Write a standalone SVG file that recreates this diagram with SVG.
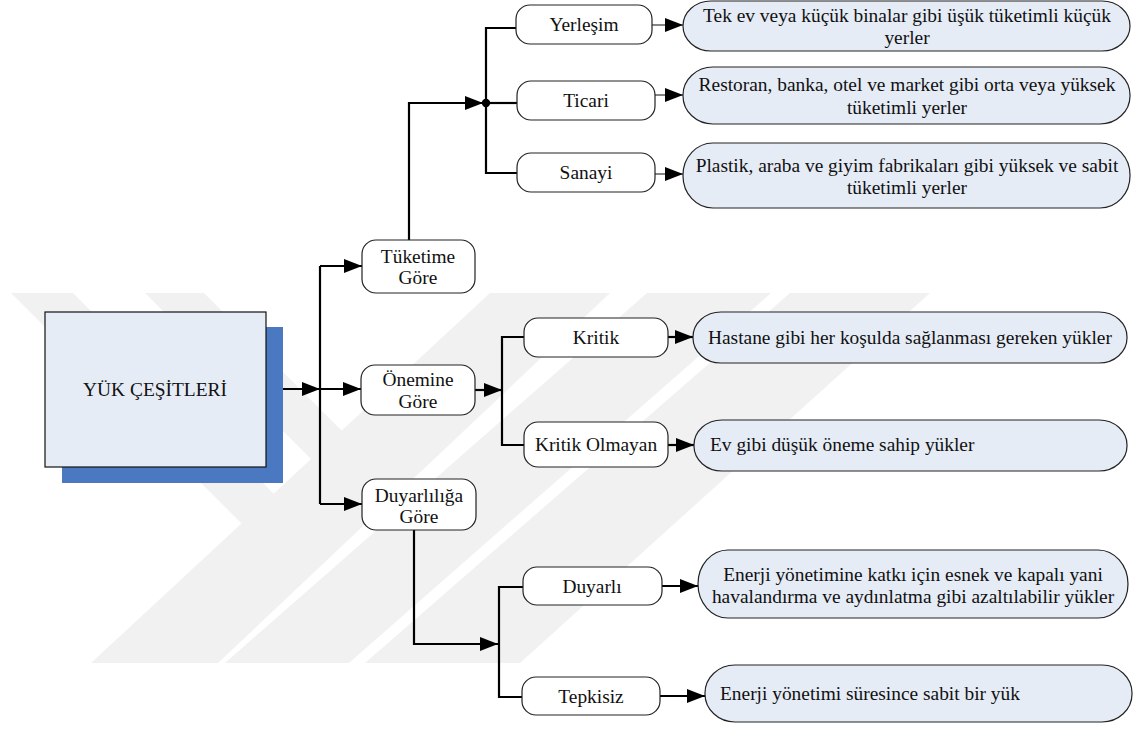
<svg xmlns="http://www.w3.org/2000/svg" width="1138" height="729" viewBox="0 0 1138 729">
<defs>
<style>
.node rect{fill:#fff;stroke:#222;stroke-width:1.2}
.desc rect{fill:#e6ecf6;stroke:#222;stroke-width:1.2}
.c{text-anchor:middle}
.wire{fill:none;stroke:#000;stroke-width:2.2}
.thin{fill:none;stroke:#666;stroke-width:1.6}
.wm{fill:#f1f1f1}
</style>
<marker id="arr" markerUnits="userSpaceOnUse" markerWidth="18" markerHeight="14" viewBox="0 0 18 14" refX="18" refY="7" orient="auto"><path d="M0,0 L18,7 L0,14 z" fill="#000"/></marker>
</defs>
<rect width="1138" height="729" fill="#fff"/>

<!-- faint background emblem: two short arms and three long slanted bars -->
<g id="emblem" class="wm">
<polygon points="11,293 73,293 325,545 263,545"/>
<polygon points="145,293 204,293 456,545 397,545"/>
<polygon points="91,663 218,663 610,293 490,293"/>
<polygon points="225,663 349,663 771,293 647,293"/>
<polygon points="365,663 520,663 930,293 790,293"/>
</g>

<g id="connectors">
<path class="wire" d="M266,389 H320" marker-end="url(#arr)"/>
<path class="wire" d="M320,266 V504"/>
<path class="wire" d="M320,266 H362" marker-end="url(#arr)"/>
<path class="wire" d="M320,389 H361" marker-end="url(#arr)"/>
<path class="wire" d="M320,504 H362" marker-end="url(#arr)"/>
<path class="wire" d="M409,240 V103 H483" marker-end="url(#arr)"/>
<circle cx="486" cy="103" r="4.2" fill="#000"/>
<path class="wire" d="M516,28 H486 V173 H517"/>
<path class="wire" d="M486,103 H517"/>
<path class="thin" d="M652,25 H683" marker-end="url(#arr)"/>
<path class="thin" d="M655,95 H683" marker-end="url(#arr)"/>
<path class="thin" d="M655,174 H683" marker-end="url(#arr)"/>
<path class="wire" d="M475,390 H502" marker-end="url(#arr)"/>
<path class="wire" d="M524,337 H502 V445 H524"/>
<path class="wire" d="M668,337 H693" marker-end="url(#arr)"/>
<path class="wire" d="M668,445 H694" marker-end="url(#arr)"/>
<path class="wire" d="M414,530 V644 H498" marker-end="url(#arr)"/>
<path class="wire" d="M523,587 H499 V697 H522"/>
<path class="wire" d="M662,586 H698" marker-end="url(#arr)"/>
<path class="wire" d="M660,696 H705" marker-end="url(#arr)"/>
</g>

<g font-family="'Liberation Serif', 'Times New Roman', Times, serif" font-size="19.4" fill="#111">

<g id="yuk-cesitleri">
<rect x="62" y="327" width="221" height="156" fill="#4a78c1"/>
<rect x="45" y="312" width="221" height="155" fill="#e6ecf6" stroke="#111" stroke-width="1.2"/>
<text x="155" y="396" class="c">YÜK ÇEŞİTLERİ</text>
</g>

<g id="tuketime" class="node">
<rect x="362" y="240" width="113" height="53" rx="14"/>
<text x="418" y="263" class="c">Tüketime</text>
<text x="418" y="284" class="c">Göre</text>
</g>
<g id="onemine" class="node">
<rect x="361" y="365" width="114" height="50" rx="14"/>
<text x="418" y="386" class="c">Önemine</text>
<text x="418" y="408" class="c">Göre</text>
</g>
<g id="duyarliliga" class="node">
<rect x="362" y="479" width="114" height="51" rx="14"/>
<text x="419" y="502" class="c">Duyarlılığa</text>
<text x="419" y="523" class="c">Göre</text>
</g>

<g id="yerlesim" class="node">
<rect x="516" y="5" width="136" height="39" rx="14"/>
<text x="584" y="31" class="c">Yerleşim</text>
</g>
<g id="ticari" class="node">
<rect x="517" y="81" width="138" height="39" rx="14"/>
<text x="586" y="107" class="c">Ticari</text>
</g>
<g id="sanayi" class="node">
<rect x="517" y="153" width="138" height="39" rx="14"/>
<text x="586" y="179" class="c">Sanayi</text>
</g>
<g id="kritik" class="node">
<rect x="524" y="318" width="144" height="39" rx="14"/>
<text x="596" y="344" class="c">Kritik</text>
</g>
<g id="kritik-olmayan" class="node">
<rect x="524" y="422" width="144" height="45" rx="14"/>
<text x="596" y="451" class="c">Kritik Olmayan</text>
</g>
<g id="duyarli" class="node">
<rect x="523" y="567" width="139" height="38" rx="14"/>
<text x="592" y="593" class="c">Duyarlı</text>
</g>
<g id="tepkisiz" class="node">
<rect x="522" y="677" width="138" height="38" rx="14"/>
<text x="591" y="703" class="c">Tepkisiz</text>
</g>

<g id="yerlesim-desc" class="desc">
<rect x="683" y="1" width="447" height="50" rx="28" ry="25"/>
<text x="907" y="22" class="c">Tek ev veya küçük binalar gibi üşük tüketimli küçük</text>
<text x="907" y="44" class="c">yerler</text>
</g>
<g id="ticari-desc" class="desc">
<rect x="683" y="67" width="447" height="57" rx="30" ry="28"/>
<text x="907" y="91" class="c">Restoran, banka, otel ve market gibi orta veya yüksek</text>
<text x="907" y="114" class="c">tüketimli yerler</text>
</g>
<g id="sanayi-desc" class="desc">
<rect x="683" y="143" width="447" height="65" rx="30" ry="32"/>
<text x="907" y="172" class="c">Plastik, araba ve giyim fabrikaları gibi yüksek ve sabit</text>
<text x="907" y="194" class="c">tüketimli yerler</text>
</g>
<g id="kritik-desc" class="desc">
<rect x="693" y="312" width="434" height="51" rx="28" ry="25"/>
<text x="708" y="344">Hastane gibi her koşulda sağlanması gereken yükler</text>
</g>
<g id="kritik-olmayan-desc" class="desc">
<rect x="694" y="420" width="433" height="51" rx="28" ry="25"/>
<text x="710" y="451">Ev gibi düşük öneme sahip yükler</text>
</g>
<g id="duyarli-desc" class="desc">
<rect x="698" y="550" width="430" height="68" rx="30" ry="34"/>
<text x="913" y="581" class="c">Enerji yönetimine katkı için esnek ve kapalı yani</text>
<text x="913" y="603" class="c">havalandırma ve aydınlatma gibi azaltılabilir yükler</text>
</g>
<g id="tepkisiz-desc" class="desc">
<rect x="705" y="665" width="427" height="57" rx="30" ry="28"/>
<text x="720" y="700">Enerji yönetimi süresince sabit bir yük</text>
</g>
</g>
</svg>
